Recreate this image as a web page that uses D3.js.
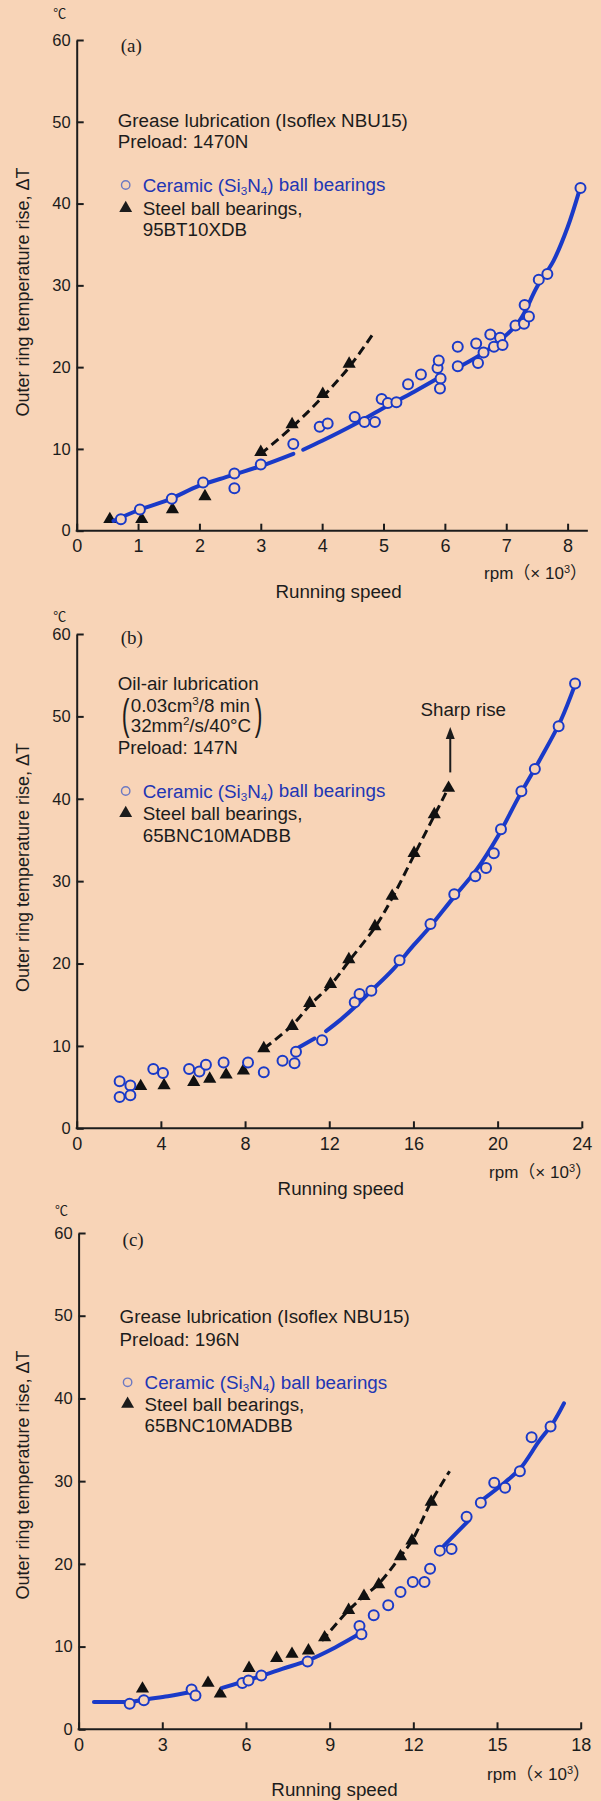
<!DOCTYPE html>
<html><head><meta charset="utf-8">
<script src="https://cdn.jsdelivr.net/npm/d3@7"></script>
<style>
html,body{margin:0;padding:0;background:#f8d4b7;}
svg{display:block;}
</style></head><body>
<svg id="chart" width="601" height="1801"></svg>
<script>
// ---------- DATA ----------
const yTickValues = [0, 10, 20, 30, 40, 50, 60];
const xTicksA = [0, 1, 2, 3, 4, 5, 6, 7, 8];
const xTicksB = [0, 4, 8, 12, 16, 20, 24];
const xTicksC = [0, 3, 6, 9, 12, 15, 18];

// Panel (a) grease, preload 1470N
const ceramicA = [[0.72,1.4],[1.03,2.6],[1.55,3.9],[2.06,5.9],[2.57,7.0],[2.57,5.2],[3.0,8.1],[3.53,10.6],
  [3.96,12.7],[4.09,13.1],[4.53,13.9],[4.69,13.3],[4.86,13.3],[4.97,16.1],[5.07,15.6],[5.21,15.7],
  [5.40,17.9],[5.61,19.1],[5.88,19.9],[5.90,20.8],[5.93,18.6],[5.92,17.4],[6.21,22.5],[6.21,20.1],
  [6.51,22.9],[6.54,20.5],[6.63,21.8],[6.74,24.0],[6.80,22.5],[6.90,23.6],[6.94,22.7],[7.15,25.1],
  [7.30,27.6],[7.29,25.3],[7.37,26.2],[7.53,30.7],[7.67,31.4],[8.21,41.9]];
const steelA = [[0.54,1.4],[1.06,1.4],[1.56,2.6],[2.09,4.2],[3.0,9.6],[3.51,13.0],[4.01,16.7],[4.44,20.4]];
const ceramicCurveA = [
  [[0.6,1.2],[1.0,2.5],[1.5,3.8],[2.0,5.5],[2.5,6.7],[3.0,7.9],[3.53,9.4]],
  [[3.69,9.9],[4.0,11.0],[4.5,12.9],[5.0,15.0],[5.5,17.0],[5.9,18.7]],
  [[6.2,19.9],[6.7,22.1],[7.2,25.5],[7.5,29.8],[7.77,33.0],[8.0,37.1],[8.2,41.8]]
];
const steelCurveA = [[3.0,9.4],[3.5,12.6],[4.0,16.3],[4.45,20.1],[4.85,24.3]];

// Panel (b) oil-air, preload 147N
const ceramicB = [[2.04,5.7],[2.04,3.8],[2.55,5.2],[2.55,4.0],[3.64,7.2],[4.1,6.7],[5.34,7.2],[5.83,6.9],
  [6.14,7.7],[6.98,8.0],[8.14,8.0],[8.89,6.8],[9.78,8.2],[10.35,7.9],[10.42,9.3],[11.66,10.7],
  [13.21,15.3],[13.44,16.3],[14.0,16.7],[15.34,20.4],[16.81,24.8],[17.94,28.4],[18.94,30.6],
  [19.45,31.6],[19.82,33.4],[20.16,36.3],[21.13,40.9],[21.77,43.6],[22.9,48.8],[23.68,54.0]];
const steelB = [[3.04,5.1],[4.15,5.2],[5.56,5.6],[6.32,6.0],[7.1,6.5],[7.92,7.0],[8.89,9.7],[10.24,12.4],
  [11.07,15.2],[12.06,17.5],[12.93,20.5],[14.17,24.5],[14.99,28.2],[16.03,33.4],[16.99,38.1],[17.67,41.3]];
const ceramicCurveB = [
  [[10.4,9.6],[11.3,10.9]],
  [[11.85,11.8],[12.5,13.1],[13.2,14.7],[14.0,16.7],[15.0,19.2],[16.0,22.2],[16.8,24.5],[17.9,28.0],
   [19.0,31.4],[20.0,35.4],[21.0,40.2],[22.0,44.7],[23.0,49.5],[23.7,54.0]]
];
const steelCurveB = [[8.9,9.7],[10.2,12.4],[11.1,15.0],[12.1,17.5],[13.0,20.5],[14.2,24.5],[15.0,28.0],
  [16.0,33.0],[17.0,38.0],[17.7,41.5]];
const sharpRiseArrow = {x: 17.75, from: 43.2, to: 48.7};

// Panel (c) grease, preload 196N
const ceramicC = [[1.83,3.1],[2.34,3.5],[4.05,4.8],[4.19,4.1],[5.87,5.6],[6.09,5.9],[6.55,6.5],[8.21,8.2],
  [10.07,12.5],[10.14,11.5],[10.58,13.8],[11.1,15.0],[11.54,16.6],[11.98,17.8],[12.4,17.8],[12.6,19.4],
  [12.95,21.6],[13.37,21.8],[13.91,25.7],[14.42,27.4],[14.9,29.8],[15.29,29.2],[15.82,31.2],
  [16.24,35.3],[16.92,36.6]];
const steelC = [[2.29,4.9],[4.64,5.6],[5.08,4.3],[6.11,7.4],[7.1,8.6],[7.65,9.1],[8.24,9.5],[8.82,11.1],
  [9.68,14.4],[10.23,16.1],[10.76,17.5],[11.54,20.9],[11.95,22.8],[12.64,27.5]];
const ceramicCurveC = [
  [[0.55,3.3],[1.5,3.3],[1.85,3.3],[2.34,3.6],[3.2,4.0],[4.05,4.5]],
  [[5.15,5.0],[6.5,6.4],[7.3,7.3],[8.2,8.3],[9.2,9.9],[10.1,11.6]],
  [[13.1,22.2],[14.0,25.3]],
  [[14.5,27.8],[15.3,29.9],[15.85,31.6],[16.5,34.8],[17.0,37.0],[17.4,39.4]]
];
const steelCurveC = [[8.72,10.7],[9.68,14.4],[10.23,16.1],[10.76,17.6],[11.54,20.9],[11.95,22.8],[12.64,27.5],[13.3,31.2]];

// Texts
const yAxisTitle = "Outer ring temperature rise, \u0394T";
const xAxisTitle = "Running speed";
const unitLabel = "\u2103";
const ceramicLabel = ["Ceramic (Si", "3", "N", "4", ") ball bearings"];
const headerA = ["Grease lubrication (Isoflex NBU15)", "Preload: 1470N"];
const steelLabelA = ["Steel ball bearings,", "95BT10XDB"];
const headerB = ["Oil-air lubrication"];
const bracketB = [["0.03cm", "3", "/8 min"], ["32mm", "2", "/s/40\u00B0C"]];
const preloadB = "Preload: 147N";
const steelLabelB = ["Steel ball bearings,", "65BNC10MADBB"];
const headerC = ["Grease lubrication (Isoflex NBU15)", "Preload: 196N"];
const steelLabelC = ["Steel ball bearings,", "65BNC10MADBB"];
const sharpRiseLabel = "Sharp rise";

// ---------- STYLE / LAYOUT ----------
const BG = "#f8d4b7", BLUE = "#1a3ac8", TXT_BLUE = "#2236b4", INK = "#1c1c1c";
const SANS = "'Liberation Sans', Arial, sans-serif";
const FS = 18.8;

const panels = [
  {tag:"(a)", xTicks:xTicksA, xEnd:8.33, xL:76.7, xR:567.6, yB:530.7, yT:40,
   ceramic:ceramicA, steel:steelA, cCurve:ceramicCurveA, sCurve:steelCurveA,
   unitY:13.3, tagY:45, header:headerA, headerY:[120.7,141.7], ceramicY:185, steelY:[208.3,229.3], steelLabel:steelLabelA,
   titleY:292, rpmY:573, runY:591.7, runX:338.6, rpmX:587},
  {tag:"(b)", xTicks:xTicksB, xEnd:24, xL:76.7, xR:581.8, yB:1128.3, yT:634,
   ceramic:ceramicB, steel:steelB, cCurve:ceramicCurveB, sCurve:steelCurveB,
   unitY:616.7, tagY:637.7, header:headerB, headerY:[683.3], bracketY:[705,725], preloadY:747.3,
   ceramicY:791, steelY:[813.3,835], steelLabel:steelLabelB,
   titleY:867.5, rpmY:1171.7, runY:1188.3, runX:340.8, rpmX:592, arrow:true},
  {tag:"(c)", xTicks:xTicksC, xEnd:18, xL:78.6, xR:580.7, yB:1729.3, yT:1233,
   ceramic:ceramicC, steel:steelC, cCurve:ceramicCurveC, sCurve:steelCurveC,
   unitY:1210.7, tagY:1239, header:headerC, headerY:[1316.7,1339], ceramicY:1382.3, steelY:[1404,1425.7], steelLabel:steelLabelC,
   titleY:1475, rpmY:1774, runY:1789.5, runX:334.5, rpmX:590}
];

const svg = d3.select("#chart");
svg.append("rect").attr("width",601).attr("height",1801).attr("fill",BG);

function txt(g, x, y, s, opts={}) {
  return g.append("text").attr("x",x).attr("y",y).attr("dy","0.35em")
    .attr("font-family",opts.family||SANS).attr("font-size",opts.size||FS)
    .attr("fill",opts.fill||INK).attr("text-anchor",opts.anchor||"start").text(s);
}
function subText(g, x, y, parts, opts={}) {
  // parts alternate: normal, script, normal, script...
  const t = g.append("text").attr("x",x).attr("y",y).attr("dy","0.35em")
    .attr("font-family",SANS).attr("font-size",opts.size||FS).attr("fill",opts.fill||INK);
  parts.forEach((p,i)=>{
    const ts = t.append("tspan").text(p);
    if (i%2===1) {
      ts.attr("font-size",(opts.size||FS)*0.62).attr("dy", opts.sup? "-0.55em":"0.3em");
    } else if (i>0) {
      ts.attr("dy", opts.sup? "0.34em":"-0.19em");
    }
  });
  return t;
}

panels.forEach(p => {
  const g = svg.append("g");
  const x = d3.scaleLinear().domain([0, p.xTicks[p.xTicks.length-1]]).range([p.xL, p.xR]);
  const y = d3.scaleLinear().domain([0, 60]).range([p.yB, p.yT]);

  // y axis
  const ya = g.append("g").attr("transform",`translate(${p.xL},0)`)
    .call(d3.axisLeft(y).tickValues(yTickValues).tickSize(-7).tickSizeOuter(0).tickPadding(6));
  ya.attr("font-family",SANS).attr("font-size",16.5);
  ya.selectAll("path,line").attr("stroke",INK).attr("stroke-width",2);
  ya.selectAll("text").attr("fill",INK);

  // x axis
  const xa = g.append("g").attr("transform",`translate(0,${p.yB})`)
    .call(d3.axisBottom(x).tickValues(p.xTicks).tickSize(-7).tickSizeOuter(0).tickPadding(9));
  xa.select(".domain").remove();
  xa.attr("font-family",SANS).attr("font-size",18);
  xa.selectAll("line").attr("stroke",INK).attr("stroke-width",2);
  xa.selectAll("text").attr("fill",INK);
  g.append("line").attr("x1",x(0)-1).attr("x2",x(p.xEnd)).attr("y1",p.yB).attr("y2",p.yB)
    .attr("stroke",INK).attr("stroke-width",2);

  // unit, tag
  txt(g, p.xL-17, p.unitY, unitLabel, {family:"'Noto Sans CJK JP', 'DejaVu Sans'", size:13, anchor:"middle"});
  txt(g, p.xL+44, p.tagY, p.tag, {family:"'Liberation Serif', serif", size:19});

  // axis titles
  g.append("text").attr("transform",`translate(23,${p.titleY}) rotate(-90)`).attr("dy","0.35em")
    .attr("text-anchor","middle").attr("font-family",SANS).attr("font-size",18).attr("fill",INK).text(yAxisTitle);
  const r = g.append("text").attr("x",p.rpmX).attr("y",p.rpmY).attr("dy","0.35em").attr("text-anchor","end")
    .attr("font-family",SANS).attr("font-size",17).attr("fill",INK);
  r.append("tspan").text("rpm");
  r.append("tspan").attr("font-family","'Noto Sans CJK JP'").text("\uFF08");
  r.append("tspan").text("\u00D7 10");
  r.append("tspan").attr("font-size",11).attr("dy","-0.5em").text("3");
  r.append("tspan").attr("font-family","'Noto Sans CJK JP'").attr("dy","0.32em").text("\uFF09");
  txt(g, p.runX, p.runY, xAxisTitle, {anchor:"middle", size:18.8});

  // legend
  const lx = p.xL + 41, sx = p.xL + 49, tx = p.xL + 66;
  p.header.forEach((s,i)=> txt(g, lx, p.headerY[i], s));
  if (p.bracketY) {
    const by = (p.bracketY[0]+p.bracketY[1])/2;
    g.append("text").attr("transform",`translate(${lx+4},${by}) scale(0.55,1)`).attr("dy","0.33em")
      .attr("font-family",SANS).attr("font-size",42).attr("fill",INK).text("(");
    g.append("text").attr("transform",`translate(${lx+137},${by}) scale(0.55,1)`).attr("dy","0.33em")
      .attr("font-family",SANS).attr("font-size",42).attr("fill",INK).text(")");
    bracketB.forEach((parts,i)=> subText(g, lx+13, p.bracketY[i], parts, {sup:true}));
    txt(g, lx, p.preloadY, preloadB);
  }
  g.append("circle").attr("cx",sx).attr("cy",p.ceramicY).attr("r",4.2)
    .attr("fill","none").attr("stroke","#6c79c2").attr("stroke-width",1.4);
  subText(g, tx, p.ceramicY, ceramicLabel, {fill:TXT_BLUE});
  g.append("path").attr("d",d3.symbol(d3.symbolTriangle,72)()).attr("transform",`translate(${sx},${p.steelY[0]})`).attr("fill",INK);
  p.steelLabel.forEach((s,i)=> txt(g, tx, p.steelY[i], s));

  // sharp rise arrow
  if (p.arrow) {
    const ax = x(sharpRiseArrow.x);
    g.append("line").attr("x1",ax).attr("x2",ax).attr("y1",y(sharpRiseArrow.from)).attr("y2",y(sharpRiseArrow.to)+8)
      .attr("stroke",INK).attr("stroke-width",2);
    const ty = y(sharpRiseArrow.to);
    g.append("path").attr("d",`M${ax},${ty} L${ax-4.5},${ty+12} L${ax+4.5},${ty+12} Z`).attr("fill",INK);
    txt(g, ax+13, y(sharpRiseArrow.to)-18, sharpRiseLabel, {anchor:"middle"});
  }

  // curves
  const line = d3.line().x(d=>x(d[0])).y(d=>y(d[1])).curve(d3.curveCatmullRom.alpha(0.5));
  g.append("path").attr("d",line(p.sCurve)).attr("fill","none").attr("stroke","#111")
    .attr("stroke-width",3).attr("stroke-dasharray","9,5");
  g.selectAll(".tri").data(p.steel).join("path").attr("class","tri")
    .attr("d",d3.symbol(d3.symbolTriangle,75)()).attr("transform",d=>`translate(${x(d[0])},${y(d[1])})`).attr("fill","#111");
  p.cCurve.forEach(seg=>{
    g.append("path").attr("d",line(seg)).attr("fill","none").attr("stroke",BLUE)
      .attr("stroke-width",4).attr("stroke-linecap","round");
  });
  g.selectAll(".cir").data(p.ceramic).join("circle").attr("class","cir")
    .attr("cx",d=>x(d[0])).attr("cy",d=>y(d[1])).attr("r",5)
    .attr("fill",BG).attr("stroke",BLUE).attr("stroke-width",2);
});
</script>
</body></html>
